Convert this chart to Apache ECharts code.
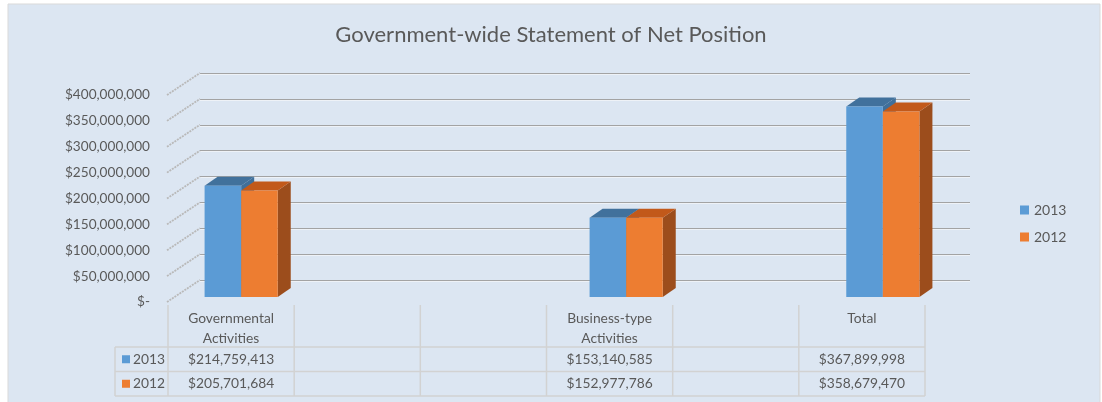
<!DOCTYPE html>
<html><head><meta charset="utf-8">
<script src="https://cdn.jsdelivr.net/npm/echarts@6/dist/echarts.min.js"></script>
<style>html,body{margin:0;padding:0;background:#fff}#c{width:1102px;height:402px}</style>
</head><body><div id="c"></div>
<script>
// ---- data ----
const categories = ['Governmental\nActivities', '', '', 'Business-type\nActivities', '', 'Total'];
const seriesNames = ['2013', '2012'];
const values2013 = [214759413, null, null, 153140585, null, 367899998];
const values2012 = [205701684, null, null, 152977786, null, 358679470];
const yTicks = [0, 50000000, 100000000, 150000000, 200000000, 250000000, 300000000, 350000000, 400000000];
const titleText = 'Government-wide Statement of Net Position';

// ---- style ----
const FONT = 'Lato';
const TXT = '#595959';
const BG = '#dce6f2';
const colors = {
  '2013': {front: '#5b9bd5', top: '#41719c', side: '#3f6f9a'},
  '2012': {front: '#ed7d31', top: '#c2591a', side: '#9c4d1c'}
};
const yMax = 400000000, yStep = 50000000;
const depth = [13, -9];
const wallDepth = [33, -22];

function money(v) {
  if (v === 0) return '$-';
  return '$' + Math.round(v).toLocaleString('en-US');
}

const chart = echarts.init(document.getElementById('c'), null, {renderer: 'canvas'});

function barRender(seriesIdx) {
  return function (params, api) {
    const v = api.value(1);
    if (v == null || isNaN(v)) return;
    const top = api.coord([api.value(0), v]);
    const base = api.coord([api.value(0), 0]);
    const w = api.size([1, 0])[0] * 0.285;
    const x0 = seriesIdx === 0 ? top[0] - w : top[0];
    const x1 = x0 + w;
    const yT = top[1], yB = base[1];
    const c = colors[seriesNames[seriesIdx]];
    const dx = depth[0], dy = depth[1];
    return {
      type: 'group',
      children: [
        {type: 'polygon', shape: {points: [[x1, yT], [x1 + dx, yT + dy], [x1 + dx, yB + dy], [x1, yB]]},
          style: {fill: c.side}},
        {type: 'polygon', shape: {points: [[x0, yT], [x0 + dx, yT + dy], [x1 + dx, yT + dy], [x1, yT]]},
          style: {fill: c.top}},
        {type: 'rect', shape: {x: x0, y: yT, width: w, height: yB - yT},
          style: {fill: c.front}}
      ]
    };
  };
}

// table graphics
const tblLeft = 168, tblRight = 925, tblTopLine = 305, hdrBottom = 347, rowH = 24.5, keyLeft = 115;
const colW = (tblRight - tblLeft) / categories.length;
const TFS = '13.8px ';
const graphics = [];
graphics.push({type: 'rect', z: -10, shape: {x: 8, y: 4, width: 1092, height: 400},
  style: {fill: BG, stroke: '#d9d9d9', lineWidth: 1}});
const lineStyle = {stroke: '#d2d2d2', lineWidth: 1.5};
for (let i = 0; i <= categories.length; i++) {
  const x = tblLeft + i * colW;
  graphics.push({type: 'line', shape: {x1: x, y1: tblTopLine, x2: x, y2: hdrBottom + 2 * rowH}, style: lineStyle});
}
graphics.push({type: 'line', shape: {x1: keyLeft, y1: hdrBottom, x2: keyLeft, y2: hdrBottom + 2 * rowH}, style: lineStyle});
for (let r = 0; r <= 2; r++) {
  const y = hdrBottom + r * rowH;
  graphics.push({type: 'line', shape: {x1: keyLeft, y1: y, x2: tblRight, y2: y}, style: lineStyle});
}
categories.forEach((c, i) => {
  const cx = tblLeft + (i + 0.5) * colW;
  if (c) graphics.push({type: 'text', x: cx, y: 309, style: {text: c, font: TFS + FONT, fill: TXT,
    align: 'center', verticalAlign: 'top', lineHeight: 20}});
  [values2013, values2012].forEach((arr, r) => {
    if (arr[i] != null) graphics.push({type: 'text', x: cx, y: hdrBottom + (r + 0.5) * rowH,
      style: {text: money(arr[i]), font: TFS + FONT, fill: TXT, align: 'center', verticalAlign: 'middle'}});
  });
});
seriesNames.forEach((n, r) => {
  const cy = hdrBottom + (r + 0.5) * rowH;
  graphics.push({type: 'rect', shape: {x: 122, y: cy - 4, width: 8, height: 8}, style: {fill: colors[n].front}});
  graphics.push({type: 'text', x: 133, y: cy, style: {text: n, font: TFS + FONT, fill: TXT, verticalAlign: 'middle'}});
});

const option = {
  backgroundColor: '#fff',
  animation: false,
  title: {text: titleText, left: 'center', top: 19,
    textStyle: {fontFamily: FONT, fontSize: 22, fontWeight: 'normal', color: TXT}},
  legend: {data: seriesNames, orient: 'vertical', left: 1015, top: 198, itemGap: 13,
    icon: 'rect', itemWidth: 9, itemHeight: 9,
    textStyle: {fontFamily: FONT, fontSize: 14, color: TXT}},
  graphic: graphics,
  grid: [
    {left: 200, top: 73, width: 770, height: 207},
    {left: 200, top: 74, width: 770, height: 207},
    {left: 167, top: 95, width: 100, height: 207},
    {left: 177, top: 90, width: 770, height: 207}
  ],
  xAxis: [
    {gridIndex: 0, type: 'value', show: false},
    {gridIndex: 1, type: 'value', show: false},
    {gridIndex: 2, type: 'value', min: 0, max: 1, show: false},
    {gridIndex: 3, type: 'category', data: categories, show: false}
  ],
  yAxis: [
    {gridIndex: 0, type: 'value', min: 0, max: yMax, interval: yStep,
      axisLine: {show: false}, axisTick: {show: false}, axisLabel: {show: false},
      splitLine: {lineStyle: {color: '#a3a3a3', width: 1}}},
    {gridIndex: 1, type: 'value', min: 0, max: yMax, interval: yStep, z: -1,
      axisLine: {show: false}, axisTick: {show: false}, axisLabel: {show: false},
      splitLine: {lineStyle: {color: '#eef2f7', width: 1}}},
    {gridIndex: 2, type: 'value', min: 0, max: yMax, interval: yStep,
      axisLine: {show: false}, axisTick: {show: false}, splitLine: {show: false},
      axisLabel: {margin: 17, fontFamily: FONT, fontSize: 13.6, color: TXT, formatter: money}},
    {gridIndex: 3, type: 'value', min: 0, max: yMax, show: false}
  ],
  series: [
    {type: 'custom', name: 'wall', xAxisIndex: 2, yAxisIndex: 2, silent: true,
      data: yTicks.map(v => [0, v]),
      renderItem: function (params, api) {
        const p = api.coord([0, api.value(1)]);
        return {type: 'line', shape: {x1: p[0], y1: p[1], x2: p[0] + wallDepth[0], y2: p[1] + wallDepth[1]},
          style: {stroke: '#b9b9b9', lineWidth: 1.8, lineDash: [2, 1]}};
      }},
    {type: 'custom', name: seriesNames[0], xAxisIndex: 3, yAxisIndex: 3,
      itemStyle: {color: colors['2013'].front},
      data: values2013.map((v, i) => [i, v]), renderItem: barRender(0)},
    {type: 'custom', name: seriesNames[1], xAxisIndex: 3, yAxisIndex: 3,
      itemStyle: {color: colors['2012'].front},
      data: values2012.map((v, i) => [i, v]), renderItem: barRender(1)}
  ]
};
chart.setOption(option);
</script></body></html>
